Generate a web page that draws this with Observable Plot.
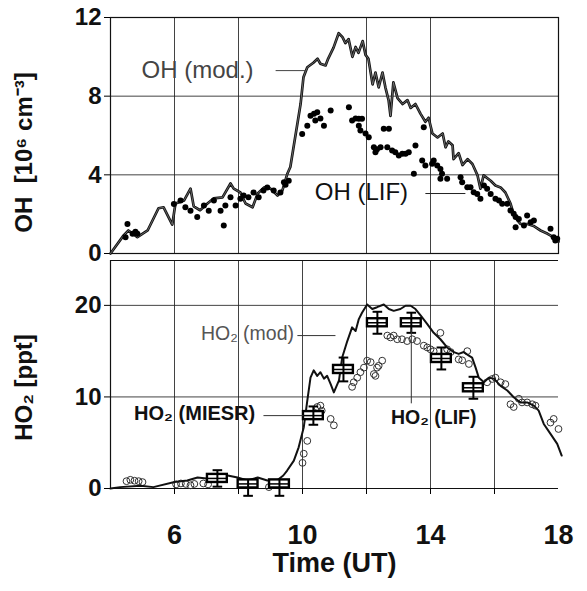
<!DOCTYPE html>
<html><head><meta charset="utf-8">
<script src="https://cdn.jsdelivr.net/npm/d3@7"></script>
<script src="https://cdn.jsdelivr.net/npm/@observablehq/plot@0.6"></script>
<style>
body{margin:0;background:#fff;}
#chart{width:587px;height:591px;position:relative;overflow:hidden;background:#fff}
#chart svg{overflow:visible;display:block}
</style></head><body><div id="chart"></div>
<script>
const FONT = "'Liberation Sans', Arial, Helvetica, sans-serif";

// ---- OH panel data: [time (UT), OH (10^6 cm^-3)] ----
const ohModel = [[4.0,0],[4.41,0.92],[4.56,1.17],[4.84,0.83],[5.16,1.17],[5.5,2.3],[5.66,2.35],[5.93,1.47],[6.03,2.54],[6.3,2.7],[6.5,3.3],[6.6,2.4],[6.8,2.2],[7.03,2.54],[7.22,2.8],[7.5,2.85],[7.75,3.56],[7.85,3.3],[8.06,3.1],[8.22,2.54],[8.44,2.35],[8.6,3.05],[8.8,3.36],[9.0,3.3],[9.22,2.95],[9.37,3.2],[9.53,4.07],[9.62,4.4],[9.72,5.4],[9.84,6.6],[9.94,7.6],[10.03,8.96],[10.15,9.47],[10.34,9.7],[10.47,9.9],[10.56,9.65],[10.72,9.56],[10.8,9.9],[10.97,10.47],[11.13,11.2],[11.25,11.0],[11.34,10.7],[11.44,10.9],[11.56,10.0],[11.66,10.5],[11.75,10.2],[11.88,10.8],[11.97,10.1],[12.06,9.9],[12.19,8.6],[12.28,9.2],[12.38,8.45],[12.5,9.2],[12.59,8.45],[12.69,7.8],[12.75,7.0],[12.84,8.7],[12.97,7.9],[13.13,7.6],[13.28,7.8],[13.38,7.4],[13.53,7.6],[13.69,7.1],[13.84,6.7],[13.94,6.9],[14.06,6.1],[14.22,5.9],[14.38,6.1],[14.47,5.4],[14.56,5.7],[14.69,5.5],[14.72,4.8],[14.88,5.1],[15.0,4.5],[15.16,4.8],[15.31,4.55],[15.47,3.97],[15.56,3.3],[15.66,3.97],[15.88,3.7],[16.03,3.46],[16.19,3.36],[16.34,3.1],[16.5,2.54],[16.6,2.0],[16.72,1.68],[16.81,1.5],[17.03,1.5],[17.22,1.4],[17.44,1.17],[17.66,1.0],[17.84,0.83],[18.0,0.6]];

const ohLIF = [[4.47,0.83],[4.53,1.5],[4.69,1.0],[4.84,1.0],[4.78,1.1],[5.98,2.52],[6.19,2.7],[6.34,2.35],[6.5,2.18],[6.71,1.85],[6.92,2.44],[7.07,2.18],[7.23,2.7],[7.44,2.18],[7.59,2.44],[7.54,1.42],[7.75,2.86],[7.91,2.44],[8.06,2.78],[8.16,2.95],[8.31,2.86],[8.47,3.1],[8.63,2.86],[8.78,3.2],[8.9,3.36],[9.1,3.2],[9.31,3.1],[9.42,3.62],[9.47,3.5],[9.57,3.7],[9.99,6.08],[10.15,6.5],[10.25,7.0],[10.36,7.1],[10.46,7.18],[10.4,6.76],[10.56,6.86],[10.67,6.5],[10.88,7.27],[11.45,7.44],[11.55,6.76],[11.66,6.86],[11.76,6.85],[11.86,6.85],[11.76,6.5],[11.81,6.25],[11.97,6.1],[12.07,5.91],[12.23,5.4],[12.33,5.3],[12.44,5.4],[12.28,5.15],[12.54,6.34],[12.7,6.34],[12.65,5.4],[12.8,5.24],[12.9,5.15],[13.01,4.98],[13.12,5.07],[13.22,5.07],[13.32,5.15],[13.53,5.49],[13.48,4.05],[13.79,6.42],[13.74,4.73],[13.84,4.47],[14.05,4.56],[14.1,4.73],[14.21,4.47],[14.31,4.3],[14.36,4.05],[14.31,3.8],[14.52,3.8],[14.94,3.88],[14.99,3.62],[15.15,3.37],[15.25,3.37],[15.35,3.12],[15.46,3.03],[15.56,2.78],[15.67,3.46],[15.77,3.29],[15.88,3.03],[16.03,2.78],[16.14,2.7],[16.24,2.53],[16.4,2.53],[16.5,2.19],[16.6,2.02],[16.66,1.85],[16.76,1.76],[16.66,1.34],[17.02,1.93],[17.13,1.59],[17.23,1.68],[16.92,1.42],[17.75,1.26],[17.85,0.83],[17.96,0.75],[17.9,0.66]];

// ---- HO2 panel data: [time (UT), HO2 (ppt)] ----
const ho2Model = [[4,0],[4.3,0.15],[4.94,0.3],[5.34,0.15],[6.0,0.7],[6.4,0.87],[6.72,1.2],[7.0,1.1],[7.34,1.6],[7.66,1.42],[7.97,1.2],[8.28,0.87],[8.6,1.2],[8.9,0.87],[9.2,0.87],[9.4,1.42],[9.52,1.96],[9.73,3.05],[9.88,4.5],[10.04,6.7],[10.15,9.6],[10.25,12.1],[10.35,12.9],[10.46,12.3],[10.56,12.7],[10.67,12.0],[10.77,12.3],[10.88,11.4],[10.98,10.5],[11.14,11.8],[11.24,14.3],[11.4,16.1],[11.55,17.6],[11.66,17.2],[11.76,18.5],[11.86,19.2],[12.02,20.1],[12.18,19.6],[12.33,19.8],[12.54,20.1],[12.7,19.6],[12.85,19.4],[13.06,19.6],[13.22,19.96],[13.38,19.96],[13.53,19.6],[13.69,18.9],[13.9,17.96],[14.1,17.0],[14.31,16.3],[14.52,15.4],[14.73,14.9],[14.88,14.7],[15.04,14.9],[15.2,14.5],[15.3,14.3],[15.41,13.2],[15.51,12.1],[15.67,11.6],[15.82,12.1],[15.98,12.0],[16.19,11.2],[16.4,10.7],[16.6,9.96],[16.81,9.4],[17.02,9.4],[17.23,9.05],[17.38,8.5],[17.54,7.05],[17.75,5.96],[17.96,4.87],[18.1,3.6]];

const ho2LIF = [[4.5,0.8],[4.62,0.95],[4.75,0.85],[4.88,0.8],[5.0,0.7],[6.05,0.45],[6.2,0.55],[6.35,0.5],[6.5,0.35],[6.62,0.5],[6.9,0.55],[7.05,0.45],[8.95,0.15],[10.0,2.8],[10.04,3.8],[10.15,5.2],[10.46,8.9],[10.56,9.05],[10.6,8.5],[10.88,7.6],[10.98,6.9],[11.55,11.1],[11.6,11.6],[11.71,12.1],[11.81,12.7],[11.92,13.2],[12.02,13.96],[12.13,13.8],[12.23,12.5],[12.28,12.3],[12.33,13.2],[12.38,13.4],[12.49,13.96],[12.65,16.7],[12.75,16.5],[12.85,16.7],[12.96,16.3],[13.11,16.3],[13.27,16.1],[13.43,16.3],[13.58,16.1],[13.79,15.6],[13.9,15.4],[14.0,15.2],[14.1,15.0],[14.31,17.0],[14.52,15.2],[14.63,14.9],[14.88,14.1],[14.99,14.0],[15.15,15.0],[15.2,13.6],[15.77,11.6],[15.93,11.96],[16.03,12.1],[16.19,11.6],[16.34,11.4],[16.5,9.2],[16.6,8.9],[16.76,9.8],[16.86,9.4],[17.02,9.4],[17.18,9.2],[17.28,9.05],[17.75,7.2],[17.85,7.6],[18.0,6.5]];

const miesrTime = [7.34, 8.3, 9.28, 10.34, 11.28, 12.34, 13.4, 14.34, 15.34];
const miesrValue = [1.1, 0.5, 0.5, 7.96, 13.0, 18.1, 18.1, 14.2, 11.0];
const miesrErrHi = [0.9, 0.3, 0.3, 1.0, 1.3, 1.2, 1.1, 1.2, 1.2];
const miesrErrLo = [0.9, 1.3, 1.3, 1.0, 1.3, 1.2, 1.1, 1.2, 1.2];

const ohTicks = [0, 4, 8, 12];
const ho2Ticks = [0, 10, 20];
const timeLabels = [6, 10, 14, 18];
const ohGridTimes = [6, 8, 12, 14];
const ho2GridTimes = [6, 8, 10, 12, 14, 16];
const ho2Max = 24.9;

const miesr = miesrTime.map((t, i) => ({t, v: miesrValue[i], hi: miesrValue[i] + miesrErrHi[i], lo: miesrValue[i] - miesrErrLo[i]}));
const X = d => d[0], Y = d => d[1];
const BOXW = 0.31, BOXH = 0.44, CAP = 0.15;
const gridStyle = {stroke: "#222", strokeOpacity: 0.85, strokeWidth: 1};

const plotOH = Plot.plot({
  width: 587, height: 256,
  marginLeft: 110, marginRight: 29, marginTop: 17, marginBottom: 3,
  style: {fontFamily: FONT, background: "transparent"},
  x: {domain: [4, 18], axis: null},
  y: {domain: [0, 12], axis: null},
  marks: [
    Plot.gridX(ohGridTimes, gridStyle),
    Plot.gridY([4, 8], gridStyle),
    Plot.frame({stroke: "#111", strokeWidth: 1.2}),
    Plot.axisY(ohTicks, {anchor: "left", tickSize: 6, tickPadding: 3, fontSize: 24, fontWeight: "bold", fontFamily: FONT, fill: "#111", label: null}),
    Plot.text(["OH  [10⁶ cm⁻³]"], {frameAnchor: "left", textAnchor: "middle", lineAnchor: "middle", rotate: -90, dx: -86, dy: 17, fontSize: 24, fontWeight: "bold", fill: "#111", fontFamily: FONT}),
    Plot.line(ohModel, {x: X, y: Y, stroke: "#111", strokeWidth: 2.7}),
    Plot.line(ohModel, {x: X, y: Y, stroke: "#8a8a8a", strokeWidth: 0.7}),
    Plot.dot(ohLIF, {x: X, y: Y, r: 3, fill: "#000", stroke: "none"}),
    Plot.text(["OH (mod.)"], {x: 6.72, y: 9.3, fontSize: 24, fill: "#444", fontFamily: FONT}),
    Plot.link([0], {x1: 9.16, x2: 10.1, y1: 9.3, y2: 9.3, stroke: "#444", strokeWidth: 1}),
    Plot.text(["OH (LIF)"], {x: 11.84, y: 3.1, fontSize: 24, fill: "#111", fontFamily: FONT}),
    Plot.link([0], {x1: 13.84, x2: 15.09, y1: 3.05, y2: 3.05, stroke: "#222", strokeWidth: 1})
  ]
});

const plotHO2 = Plot.plot({
  width: 587, height: 335,
  marginLeft: 110, marginRight: 29, marginTop: 4, marginBottom: 103,
  style: {fontFamily: FONT, background: "transparent"},
  x: {domain: [4, 18], axis: null},
  y: {domain: [0, ho2Max], axis: null},
  marks: [
    Plot.gridX(ho2GridTimes, gridStyle),
    Plot.gridY([10, 20], gridStyle),
    Plot.ruleY([ho2Max], {stroke: "#111", strokeWidth: 1.2}),
    Plot.ruleY([0], {stroke: "#111", strokeWidth: 1.2}),
    Plot.ruleX([4], {stroke: "#111", strokeWidth: 1.2}),
    Plot.axisY(ho2Ticks, {anchor: "left", tickSize: 6, tickPadding: 3, fontSize: 24, fontWeight: "bold", fontFamily: FONT, fill: "#111", label: null}),
    Plot.text(["HO₂ [ppt]"], {frameAnchor: "left", textAnchor: "middle", lineAnchor: "middle", rotate: -90, dx: -86, dy: 13, fontSize: 24, fontWeight: "bold", fill: "#111", fontFamily: FONT}),
    Plot.axisX(ho2GridTimes, {anchor: "bottom", tickSize: 6, tickFormat: () => "", label: null}),
    Plot.axisX(timeLabels, {anchor: "bottom", tickSize: 0, tickPadding: 36, fontSize: 27, fontWeight: "bold", fontFamily: FONT, fill: "#111",
      label: "Time (UT)", labelAnchor: "center", labelArrow: "none", labelOffset: 83}),
    Plot.dot(ho2LIF, {x: X, y: Y, r: 3.4, fill: "none", stroke: "#333", strokeWidth: 1}),
    Plot.line(ho2Model, {x: X, y: Y, stroke: "#111", strokeWidth: 2}),
    Plot.link(miesr, {x1: "t", x2: "t", y1: "lo", y2: "hi", stroke: "#000", strokeWidth: 2}),
    Plot.link(miesr, {x1: d => d.t - CAP, x2: d => d.t + CAP, y1: "hi", y2: "hi", stroke: "#000", strokeWidth: 2}),
    Plot.link(miesr, {x1: d => d.t - CAP, x2: d => d.t + CAP, y1: "lo", y2: "lo", stroke: "#000", strokeWidth: 2}),
    Plot.rect(miesr, {x1: d => d.t - BOXW, x2: d => d.t + BOXW, y1: d => d.v - BOXH, y2: d => d.v + BOXH, fill: "#fff", stroke: "#000", strokeWidth: 2.4}),
    Plot.link(miesr, {x1: d => d.t - BOXW, x2: d => d.t + BOXW, y1: "v", y2: "v", stroke: "#000", strokeWidth: 1.5}),
    Plot.link(miesr, {x1: "t", x2: "t", y1: d => d.v - BOXH, y2: d => d.v + BOXH, stroke: "#000", strokeWidth: 2}),
    Plot.text(["HO₂ (mod)"], {x: 8.28, y: 16.9, fontSize: 19.5, fill: "#555", fontFamily: FONT}),
    Plot.link([0], {x1: 9.84, x2: 11.03, y1: 16.7, y2: 16.7, stroke: "#333", strokeWidth: 1}),
    Plot.text(["HO₂ (MIESR)"], {x: 6.63, y: 8.2, fontSize: 20, fontWeight: "bold", fill: "#111", fontFamily: FONT}),
    Plot.link([0], {x1: 8.78, x2: 10.03, y1: 7.96, y2: 7.96, stroke: "#333", strokeWidth: 1}),
    Plot.text(["HO₂ (LIF)"], {x: 14.1, y: 7.74, fontSize: 19.5, fontWeight: "bold", fill: "#111", fontFamily: FONT}),
    Plot.link([0], {x1: 13.4, x2: 13.4, y1: 17.4, y2: 9.3, stroke: "#333", strokeWidth: 1})
  ]
});

const chart = document.getElementById("chart");
chart.append(plotOH, plotHO2);
</script></body></html>
